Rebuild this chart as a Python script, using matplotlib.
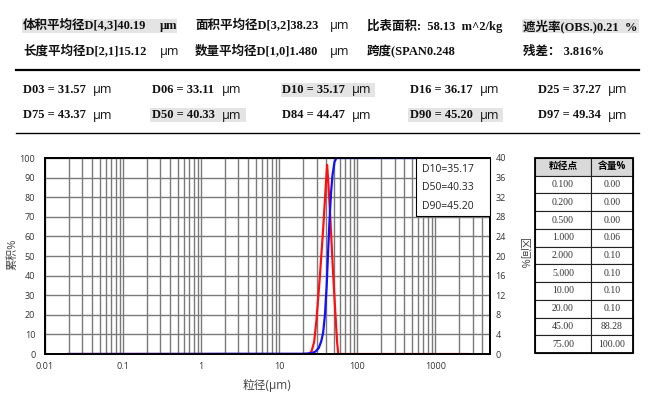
import matplotlib
matplotlib.use("Agg")
import matplotlib.pyplot as plt
from matplotlib.patches import Rectangle
from matplotlib.lines import Line2D
from matplotlib.ticker import FixedLocator, FixedFormatter, NullFormatter

W, H = 650, 397

# summary values
summary_rows = [
    [("体积平均径D[4,3]40.19", "μm"), ("面积平均径D[3,2]38.23", "μm"),
     ("比表面积:  58.13  m^2/kg", None), ("遮光率(OBS.)0.21  %", None)],
    [("长度平均径D[2,1]15.12", "μm"), ("数量平均径D[1,0]1.480", "μm"),
     ("跨度(SPAN0.248", None), ("残差： 3.816%", None)],
]
d_labels = [["D03", "D06", "D10", "D16", "D25"],
            ["D75", "D50", "D84", "D90", "D97"]]
d_values = [[31.57, 33.11, 35.17, 36.17, 37.27],
            [43.37, 40.33, 44.47, 45.20, 49.34]]

# curves
size_diff = [0.02, 24, 26, 28, 30, 33, 36.5, 39.5, 41, 42.5, 45, 48, 52, 55, 57, 2600]
pct_diff = [0, 0, 0.6, 2.5, 7.0, 15.5, 25.5, 34.5, 38.6, 35.0, 28.0, 19.0, 9.0, 2.5, 0, 0]

size_cum = [0.02, 1, 2, 20, 26, 29, 32, 34.5, 36.5, 38.5, 40.5, 42, 44, 46, 48, 51, 54, 2600]
pct_cum = [0, 0.06, 0.1, 0.1, 0.4, 1.2, 3, 6.5, 11, 20, 35, 50, 68, 82, 91, 98, 100, 100]

# table
table_sizes = ["0.100", "0.200", "0.500", "1.000", "2.000", "5.000", "10.00", "20.00", "45.00", "75.00"]
table_pct = ["0.00", "0.00", "0.00", "0.06", "0.10", "0.10", "0.10", "0.10", "88.28", "100.00"]

serif = ["Liberation Serif", "Noto Sans CJK SC"]
sans = ["Open Sans", "Noto Sans CJK SC"]

fig = plt.figure(figsize=(W / 100, H / 100), dpi=100)


def fx(x):
    return x / W


def fy(y):
    return 1 - y / H


def box(x0, y0, x1, y1, color="#e4e4e4"):
    fig.patches.append(Rectangle((fx(x0), fy(y1)), fx(x1 - x0), (y1 - y0) / H,
                                 transform=fig.transFigure, facecolor=color,
                                 edgecolor="none", zorder=0))


# --- header block ---
box(22, 19, 177, 33)
box(522, 19, 639, 33)
box(281, 83, 375, 97)
box(150, 108, 246, 122)
box(408, 108, 503, 122)

col_x = [23, 195, 367, 523]
for r, row in enumerate(summary_rows):
    y = [26, 52][r]
    for c, (txt, unit) in enumerate(row):
        fig.text(fx(col_x[c]), fy(y), txt, family=serif, weight="bold",
                 fontsize=9, va="center", ha="left", color="#111111")
        if unit:
            ux = col_x[c] + (137 if c == 0 else 135)
            if r == 0 and c == 0:
                fig.text(fx(ux), fy(y), unit, family=serif, weight="bold",
                         fontsize=9, va="center", color="#111111")
            else:
                fig.text(fx(ux), fy(y), unit, family=sans, fontsize=9,
                         va="center", color="#111111")

fig.add_artist(Line2D([fx(16), fx(639)], [fy(70), fy(70)], color="black", lw=1.6))
fig.add_artist(Line2D([fx(16), fx(639)], [fy(133), fy(133)], color="black", lw=1.0))

d_x = [23, 152, 282, 410, 538]
for r in range(2):
    y = [90, 115][r]
    for c in range(5):
        fig.text(fx(d_x[c]), fy(y), f"{d_labels[r][c]} = {d_values[r][c]:.2f}",
                 family=serif, weight="bold", fontsize=9, va="center", color="#111111")
        fig.text(fx(d_x[c] + 70), fy(y), "μm", family=sans, fontsize=9,
                 va="center", color="#111111")

# --- chart ---
L, R, T, B = 45, 490, 158, 354
ax = fig.add_axes([fx(L), fy(B), fx(R - L), (B - T) / H])
ax2 = ax.twinx()
ax.set_zorder(2)
ax2.set_zorder(1)
ax.patch.set_visible(False)

ax2.plot(size_diff, pct_diff, color="#ff1010", lw=1.6)
ax.plot(size_cum, pct_cum, color="#1010ff", lw=1.6)

ax.set_xscale("log")
ax.set_xlim(0.01, 5000)
ax.set_ylim(0, 100)
ax2.set_ylim(0, 40)
ax.set_yticks(range(0, 101, 10))
ax2.set_yticks(range(0, 41, 4))
major = [0.01, 0.1, 1, 10, 100, 1000]
ax.xaxis.set_major_locator(FixedLocator(major))
ax.xaxis.set_major_formatter(FixedFormatter(["0.01", "0.1", "1", "10", "100", "1000"]))
minor = [m * d for d in [0.01, 0.1, 1, 10, 100, 1000] for m in range(2, 10) if m * d <= 5000]
ax.xaxis.set_minor_locator(FixedLocator(minor))
ax.xaxis.set_minor_formatter(NullFormatter())

# grid lives on the lower (twin) axes so the curves sit on top of it
ax2.xaxis.set_visible(True)
ax2.tick_params(axis="x", which="both", labelbottom=False, labeltop=False, length=0)
ax2.grid(True, which="both", axis="x", color="#7a7a7a", lw=1.0)
ax2.grid(True, which="major", axis="y", color="#7a7a7a", lw=1.0)
ax2.set_axisbelow(True)

for a in (ax, ax2):
    a.tick_params(which="both", length=0, labelsize=6.5, labelcolor="#333333")
    for s in a.spines.values():
        s.set_linewidth(1.3)
        s.set_color("black")
    for lab in a.get_xticklabels() + a.get_yticklabels():
        lab.set_family(sans)
ax.tick_params(axis="y", pad=7)
ax.tick_params(axis="x", pad=6)
ax2.tick_params(axis="y", pad=4)

fig.text(fx(267), fy(385), "粒径(μm)", family=sans, fontsize=8.5, ha="center",
         va="center", color="#444444")
fig.text(fx(13), fy(254), "累积%", family=sans, fontsize=8, ha="center",
         va="center", rotation=90, color="#444444")
fig.text(fx(522), fy(254), "区间%", family=sans, fontsize=8, ha="center",
         va="center", rotation=270, color="#444444")

# D10/D50/D90 box
fig.patches.append(Rectangle((fx(416), fy(216)), fx(490 - 416), (216 - 158) / H,
                             transform=fig.transFigure, facecolor="white",
                             edgecolor="black", lw=0.8, zorder=10))
box_vals = {"D10": d_values[0][2], "D50": d_values[1][1], "D90": d_values[1][3]}
for i, (k, v) in enumerate(box_vals.items()):
    fig.text(fx(422), fy(170 + 18 * i), f"{k}={v:.2f}", family=sans, fontsize=7.5,
             va="center", color="#222222", zorder=11)

# --- table ---
tax = fig.add_axes([fx(535), fy(353), fx(633 - 535), (353 - 158) / H])
tax.axis("off")
tbl = tax.table(cellText=[[a, b] for a, b in zip(table_sizes, table_pct)],
                colLabels=["粒径点", "含量%"], colWidths=[56 / 98, 42 / 98],
                cellLoc="center", bbox=[0, 0, 1, 1])
tbl.auto_set_font_size(False)
for (r, c), cell in tbl.get_celld().items():
    cell.set_linewidth(0.8)
    cell.set_edgecolor("#222222")
    if r == 0:
        cell.set_facecolor("#d9d9d9")
        cell.get_text().set_fontsize(7)
        cell.get_text().set_family(sans)
        cell.get_text().set_weight("bold")
    else:
        cell.get_text().set_fontsize(7)
        cell.get_text().set_family(serif)
        cell.get_text().set_color("#333333")
tax.add_patch(Rectangle((0, 0), 1, 1, transform=tax.transAxes, fill=False,
                        edgecolor="black", lw=1.3, clip_on=False))

fig.savefig("out.png", dpi=100)
